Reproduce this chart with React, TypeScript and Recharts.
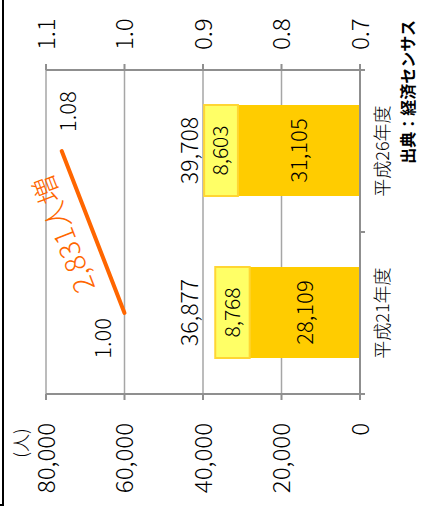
import React from 'react';
import { ComposedChart, Bar, Line, XAxis, YAxis, CartesianGrid, LabelList } from 'recharts';

const years = ['平成21年度', '平成26年度'];
const baseWorkers = [28109, 31105];
const addedWorkers = [8768, 8603];
const ratios = [1.0, 1.08];
const leftTicks = [0, 20000, 40000, 60000, 80000];
const rightTicks = [0.7, 0.8, 0.9, 1.0, 1.1];

const totals = baseWorkers.map((v, i) => v + addedWorkers[i]);
const maxTotal = Math.max(...totals);
const increaseText = `${(totals[1] - totals[0]).toLocaleString('en-US')}人増`;

const data = years.map((year, i) => ({
  year,
  base: baseWorkers[i],
  added: addedWorkers[i],
  total: totals[i],
  ratio: ratios[i],
}));

const NUM_FONT = '"Noto Sans CJK JP", sans-serif';
const JP_FONT = '"Noto Sans CJK JP", sans-serif';
const AXIS_GRAY = '#8f8f8f';
const LIGHT = 300;
const fmtNum = (v: number) => v.toLocaleString('en-US');

// points of the ratio line, filled while its labels render
const linePts: { x: number; y: number }[] = [];

const CategoryTick = (props: any) => {
  const { x, y, payload } = props;
  const off = payload?.offset ?? 0;
  return (
    <g>
      <line x1={x - off} x2={x - off} y1={y - 5} y2={y} stroke={AXIS_GRAY} strokeWidth={2} />
      <line x1={x + off} x2={x + off} y1={y - 5} y2={y} stroke={AXIS_GRAY} strokeWidth={2} />
      <text x={x} y={y + 24} textAnchor="middle" fontSize={18} fontWeight={LIGHT} fontFamily={JP_FONT} fill="#000">
        {payload.value}
      </text>
    </g>
  );
};

const TotalLabel = (props: any) => {
  const vb = props.viewBox ?? props;
  const { x, y, width, height } = vb;
  const i = props.index;
  const ppu = Math.abs(height) / addedWorkers[i];
  const top = Math.min(y, y + height) - (maxTotal - totals[i]) * ppu;
  return (
    <text x={x + width / 2} y={top - 14} dy="0.35em" textAnchor="middle" fontSize={23} fontWeight={LIGHT} fontFamily={NUM_FONT} fill="#000">
      {fmtNum(totals[i])}
    </text>
  );
};

const RatioLabel = (props: any) => {
  const { x, y, index, value } = props;
  linePts[index] = { x, y };
  const txt = Number(value).toFixed(2);
  if (index === 0) {
    return (
      <text x={x - 5} y={y - 21} dy="0.35em" textAnchor="end" fontSize={22} fontWeight={LIGHT} fontFamily={NUM_FONT} fill="#000">
        {txt}
      </text>
    );
  }
  const p0 = linePts[0];
  let note = null;
  if (p0) {
    const ang = (Math.atan2(y - p0.y, x - p0.x) * 180) / Math.PI;
    const mx = (x + p0.x) / 2 - 2;
    const my = (y + p0.y) / 2 - 29;
    note = (
      <text
        x={mx}
        y={my}
        dy="0.35em"
        textAnchor="middle"
        fontSize={28}
        fontWeight={LIGHT}
        fontFamily={NUM_FONT}
        fill="#FF6600"
        transform={`rotate(${ang} ${mx} ${my})`}
      >
        {increaseText}
      </text>
    );
  }
  return (
    <g>
      {note}
      <text x={x + 19} y={y + 7} dy="0.35em" textAnchor="start" fontSize={22} fontWeight={LIGHT} fontFamily={NUM_FONT} fill="#000">
        {txt}
      </text>
    </g>
  );
};

export default function App() {
  return (
    <div style={{ position: 'absolute', left: 0, top: 0, width: 422, height: 510, overflow: 'hidden', background: '#fff' }}>
      <div
        style={{
          position: 'absolute',
          left: 0,
          top: 0,
          width: 510,
          height: 422,
          transformOrigin: '0 0',
          transform: 'translateY(510px) rotate(-90deg)',
        }}
      >
        <svg width={510} height={422} style={{ position: 'absolute', left: 0, top: 0 }}>
          <line x1={5} x2={510} y1={3} y2={3} stroke="#000" strokeWidth={2} />
          <line x1={5} x2={5} y1={0} y2={4} stroke="#000" strokeWidth={2} />
          <text x={67} y={22} dy="0.35em" textAnchor="middle" fontSize={18} fontWeight={LIGHT} fontFamily={JP_FONT} fill="#000">
            (人)
          </text>
          <text x={490} y={408} dy="0.35em" textAnchor="end" fontSize={16} fontWeight="bold" fontFamily={JP_FONT} fill="#000">
            出典：経済センサス
          </text>
        </svg>
        <div style={{ position: 'absolute', left: 0, top: 0 }}>
          <ComposedChart width={510} height={422} data={data} margin={{ top: 46, right: 0, bottom: 22, left: 0 }}>
            <CartesianGrid yAxisId="left" vertical={false} stroke="#a6a6a6" strokeWidth={1.5} />
            <XAxis
              dataKey="year"
              height={40}
              tickLine={false}
              tickSize={5}
              tickMargin={0}
              axisLine={{ stroke: AXIS_GRAY, strokeWidth: 2 }}
              tick={<CategoryTick />}
            />
            <YAxis
              yAxisId="left"
              width={116}
              domain={[0, 80000]}
              ticks={leftTicks}
              tickFormatter={fmtNum}
              tickSize={6}
              tickMargin={23}
              axisLine={{ stroke: AXIS_GRAY, strokeWidth: 2 }}
              tickLine={{ stroke: AXIS_GRAY, strokeWidth: 2 }}
              tick={{ fill: '#000', fontSize: 24, fontWeight: LIGHT, fontFamily: NUM_FONT }}
            />
            <YAxis
              yAxisId="right"
              orientation="right"
              width={70}
              domain={[0.7, 1.1]}
              ticks={rightTicks}
              tickFormatter={(v: number) => v.toFixed(1)}
              tickSize={6}
              tickMargin={14}
              axisLine={{ stroke: AXIS_GRAY, strokeWidth: 2 }}
              tickLine={{ stroke: AXIS_GRAY, strokeWidth: 2 }}
              tick={{ fill: '#000', fontSize: 24, fontWeight: LIGHT, fontFamily: NUM_FONT, textAnchor: 'start' }}
            />
            <Bar yAxisId="left" dataKey="base" stackId="a" fill="#FFCC00" barSize={91} isAnimationActive={false}>
              <LabelList
                dataKey="base"
                position="center"
                formatter={(v: any) => fmtNum(Number(v))}
                style={{ fill: '#000', fontSize: 22, fontWeight: LIGHT, fontFamily: NUM_FONT }}
              />
            </Bar>
            <Bar
              yAxisId="left"
              dataKey="added"
              stackId="a"
              fill="#FFFF66"
              stroke="#FFD633"
              strokeWidth={2}
              barSize={91}
              isAnimationActive={false}
            >
              <LabelList
                dataKey="added"
                position="center"
                formatter={(v: any) => fmtNum(Number(v))}
                style={{ fill: '#000', fontSize: 21, fontWeight: LIGHT, fontFamily: NUM_FONT, stroke: 'none' }}
              />
              <LabelList dataKey="total" content={<TotalLabel />} />
            </Bar>
            <Line
              yAxisId="right"
              dataKey="ratio"
              type="linear"
              stroke="#FF6600"
              strokeWidth={4}
              strokeLinecap="round"
              dot={false}
              activeDot={false}
              isAnimationActive={false}
            >
              <LabelList dataKey="ratio" content={<RatioLabel />} />
            </Line>
          </ComposedChart>
        </div>
      </div>
    </div>
  );
}
